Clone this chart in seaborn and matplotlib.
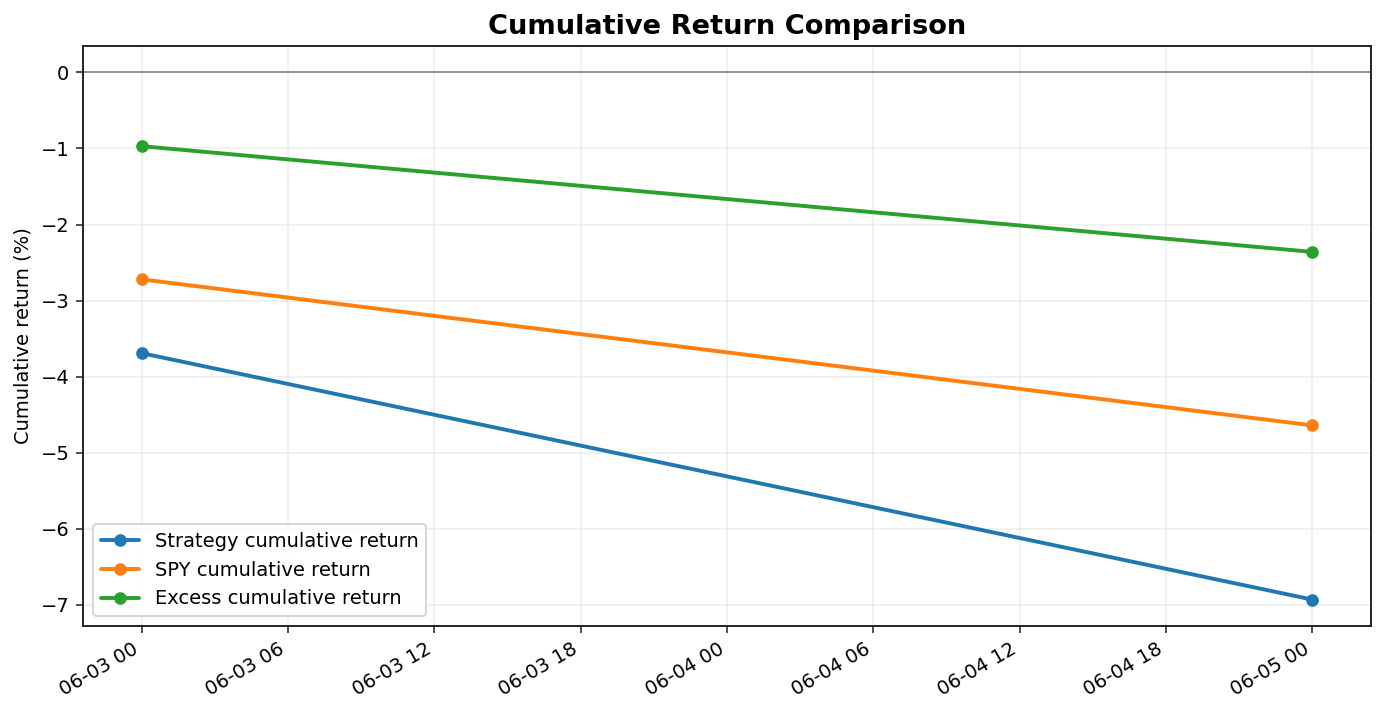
import pandas as pd
import numpy as np
import matplotlib
matplotlib.use("Agg")
import matplotlib.pyplot as plt
import matplotlib.dates as mdates
import seaborn as sns

# values (percent)
dates = ["2025-06-03", "2025-06-05"]
strategy_cum = [-3.69, -6.93]
spy_cum = [-2.72, -4.64]
excess_cum = [-0.97, -2.36]

series_names = ["Strategy cumulative return", "SPY cumulative return", "Excess cumulative return"]
colors = ["#1f77b4", "#ff7f0e", "#2ca02c"]

sns.set_style("ticks")
plt.rcParams["font.family"] = ["DejaVu Sans"]
plt.rcParams["text.color"] = "black"
plt.rcParams["axes.labelcolor"] = "black"
plt.rcParams["axes.edgecolor"] = "#222222"
plt.rcParams["xtick.color"] = "#222222"
plt.rcParams["ytick.color"] = "#222222"
plt.rcParams["xtick.labelcolor"] = "black"
plt.rcParams["ytick.labelcolor"] = "black"

df = pd.DataFrame({
    "date": pd.to_datetime(dates * 3),
    "value": strategy_cum + spy_cum + excess_cum,
    "series": [n for n in series_names for _ in dates],
})

dpi = 140
fig, ax = plt.subplots(figsize=(1385 / dpi, 714 / dpi), dpi=dpi)
fig.subplots_adjust(left=83 / 1385, right=1371 / 1385, top=1 - 46 / 714, bottom=1 - 626 / 714)

ax.axhline(0, color="slategray", linewidth=1, alpha=0.8, zorder=1)
sns.lineplot(data=df, x="date", y="value", hue="series", palette=colors,
             marker="o", markersize=6.5, markeredgewidth=0, linewidth=2.0, ax=ax, zorder=3)

ax.xaxis.set_major_locator(mdates.HourLocator(byhour=[0, 6, 12, 18]))
ax.xaxis.set_major_formatter(mdates.DateFormatter("%m-%d %H"))
plt.setp(ax.get_xticklabels(), rotation=30, ha="right")
ax.tick_params(labelsize=10)

ax.grid(True, alpha=0.35)
ax.set_title("Cumulative Return Comparison", fontsize=14, fontweight="bold")
ax.set_ylabel("Cumulative return (%)", fontsize=10)
ax.set_xlabel("")
for s in ax.spines.values():
    s.set_visible(True)
    s.set_linewidth(1.0)
ax.legend(loc="lower left", frameon=True, fontsize=10)

fig.savefig("out.png", dpi=dpi)
